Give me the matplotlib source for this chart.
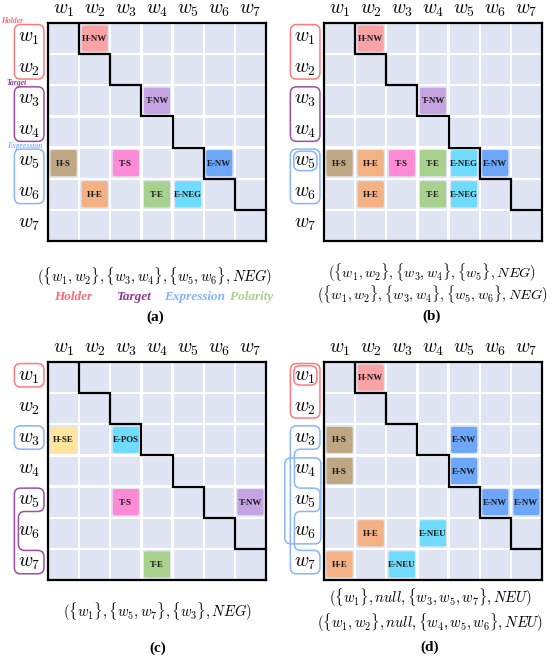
import numpy as np
import matplotlib
matplotlib.use("Agg")
import matplotlib.pyplot as plt
from matplotlib.patches import Rectangle, FancyBboxPatch, PathPatch
from matplotlib.path import Path

plt.rcParams['mathtext.fontset'] = 'cm'

N = 7
words = [r'$w_{%d}$' % (i + 1) for i in range(N)]

# tagged cells: (row, col, tag)
cells_a = [(0, 1, 'H-NW'), (2, 3, 'T-NW'), (4, 0, 'H-S'), (4, 2, 'T-S'), (4, 5, 'E-NW'),
           (5, 1, 'H-E'), (5, 3, 'T-E'), (5, 4, 'E-NEG')]
cells_b = [(0, 1, 'H-NW'), (2, 3, 'T-NW'), (4, 0, 'H-S'), (4, 1, 'H-E'), (4, 2, 'T-S'),
           (4, 3, 'T-E'), (4, 4, 'E-NEG'), (4, 5, 'E-NW'), (5, 1, 'H-E'), (5, 3, 'T-E'),
           (5, 4, 'E-NEG')]
cells_c = [(2, 0, 'H-SE'), (2, 2, 'E-POS'), (4, 2, 'T-S'), (4, 6, 'T-NW'), (6, 3, 'T-E')]
cells_d = [(0, 1, 'H-NW'), (2, 0, 'H-S'), (2, 4, 'E-NW'), (3, 0, 'H-S'), (3, 4, 'E-NW'),
           (4, 5, 'E-NW'), (4, 6, 'E-NW'), (5, 1, 'H-E'), (5, 3, 'E-NEU'), (6, 0, 'H-E'),
           (6, 2, 'E-NEU')]

# spans marked next to the rows: (rows, role, level)
spans_a = [([0, 1], 'holder', 'outer'), ([2, 3], 'target', 'outer'), ([4, 5], 'expr', 'outer')]
spans_b = [([0, 1], 'holder', 'outer'), ([2, 3], 'target', 'outer'), ([4, 5], 'expr', 'outer'),
           ([4], 'expr', 'inner')]
spans_c = [([0], 'holder', 'outer'), ([2], 'expr', 'outer'), ([4, 6], 'target', 'outer')]
spans_d = [([0, 1], 'holder', 'outer'), ([0], 'holder', 'inner'), ([2, 4, 6], 'expr', 'outer'),
           ([3, 4, 5], 'expr', 'wide')]

quads_a = [r'$(\{w_1,w_2\},\{w_3,w_4\},\{w_5,w_6\},NEG)$']
quads_b = [r'$(\{w_1,w_2\},\{w_3,w_4\},\{w_5\},NEG)$',
           r'$(\{w_1,w_2\},\{w_3,w_4\},\{w_5,w_6\},NEG)$']
quads_c = [r'$(\{w_1\},\{w_5,w_7\},\{w_3\},NEG)$']
quads_d = [r'$(\{w_1\},null,\{w_3,w_5,w_7\},NEU)$',
           r'$(\{w_1,w_2\},null,\{w_4,w_5,w_6\},NEU)$']

legend_words = ['Holder', 'Target', 'Expression', 'Polarity']

tag_colors = {'H-NW': '#f9a3a6', 'T-NW': '#c6a4e2', 'H-S': '#bfa783', 'T-S': '#ff8ad5',
              'E-NW': '#6ca7fa', 'H-E': '#f4b183', 'T-E': '#a9d18e', 'E-NEG': '#6fdcfd',
              'H-SE': '#ffe69c', 'E-POS': '#6fdcfd', 'E-NEU': '#6fdcfd'}
role_colors = {'holder': '#ff7b7e', 'target': '#a04ca6', 'expr': '#88b5fb'}
legend_colors = ['#ff6b72', '#8e3a99', '#84b2ff', '#a8d28c']
levels = {'outer': (-1.08, -0.13, 0.05, 0.8), 'inner': (-0.97, -0.23, 0.12, 0.74),
          'wide': (-1.26, -0.1, 0.08, 0.84)}

W, H = 557, 664
fig = plt.figure(figsize=(W / 100, H / 100), dpi=100)


def rounded_path(pts, r):
    verts, codes = [], []
    n = len(pts)
    for k in range(n):
        p0, p1, p2 = np.array(pts[k - 1]), np.array(pts[k]), np.array(pts[(k + 1) % n])
        l1, l2 = np.linalg.norm(p0 - p1), np.linalg.norm(p2 - p1)
        rr = min(r, l1 / 2, l2 / 2)
        a = p1 + (p0 - p1) / l1 * rr
        b = p1 + (p2 - p1) / l2 * rr
        verts.append(a)
        codes.append(Path.MOVETO if k == 0 else Path.LINETO)
        verts += [p1, b]
        codes += [Path.CURVE3, Path.CURVE3]
    verts.append(verts[0])
    codes.append(Path.CLOSEPOLY)
    return Path(verts, codes)


def bracket(ax, rows, role, level):
    x0, x1, top, bot = levels[level]
    runs = [[rows[0]]]
    for r in rows[1:]:
        if r == runs[-1][-1] + 1:
            runs[-1].append(r)
        else:
            runs.append([r])
    xn = x0 + 0.13
    pts = [(x0, runs[0][0] + top)]
    for k, run in enumerate(runs):
        pts += [(x1, run[0] + top), (x1, run[-1] + bot)]
        if k < len(runs) - 1:
            pts += [(xn, run[-1] + bot), (xn, runs[k + 1][0] + top)]
    pts.append((x0, runs[-1][-1] + bot))
    ax.add_patch(PathPatch(rounded_path(pts, 0.2), fc='none', ec=role_colors[role],
                           lw=1.1, clip_on=False))


def panel(left, top, cells, spans):
    ax = fig.add_axes([left / W, 1 - (top + 218) / H, 218 / W, 218 / H])
    ax.set_xlim(0, N)
    ax.set_ylim(N, 0)
    ax.set_xticks([])
    ax.set_yticks([])
    for s in ax.spines.values():
        s.set_linewidth(1.6)
    for i in range(N):
        for j in range(N):
            ax.add_patch(Rectangle((j + 0.035, i + 0.035), 0.93, 0.93, fc='#e0e5f3', ec='none'))
    for i, j, tag in cells:
        ax.add_patch(FancyBboxPatch((j + 0.1, i + 0.1), 0.8, 0.8,
                                    boxstyle='round,pad=0.02,rounding_size=0.06',
                                    fc=tag_colors[tag], ec='none'))
        ax.text(j + 0.5, i + 0.52, tag, ha='center', va='center', fontsize=6.4,
                fontweight='bold', family='Liberation Serif', color='#1a1a1a')
    # staircase separating the upper triangle
    sx, sy = [1], [0]
    for k in range(1, N):
        sx += [k, k + 1]
        sy += [k, k]
    ax.plot(sx, sy, color='black', lw=1.6, solid_joinstyle='miter')
    for k, w in enumerate(words):
        ax.text(k + 0.5, -0.42, w, ha='center', va='center', fontsize=14, clip_on=False)
        ax.text(-0.6, k + 0.45, w, ha='center', va='center', fontsize=14, clip_on=False)
    for rows, role, level in spans:
        bracket(ax, rows, role, level)
    return ax


ax_a = panel(48, 23, cells_a, spans_a)
panel(324, 23, cells_b, spans_b)
panel(48, 362, cells_c, spans_c)
panel(324, 362, cells_d, spans_d)

small = dict(ha='center', va='center', fontsize=5.5, style='italic', fontweight='bold',
             family='Liberation Serif', clip_on=False)
ax_a.text(-1.15, -0.05, 'Holder', color=legend_colors[0], **small)
ax_a.text(-1.0, 1.94, 'Target', color=legend_colors[1], **small)
ax_a.text(-0.75, 3.94, 'Expression', color=legend_colors[2], **small)


def caption(x, y, lines, label, ylab, size=10.5, spacing=1.0):
    fig.text(x / W, 1 - y / H, '\n'.join(lines), ha='center', va='center',
             fontsize=size, linespacing=spacing, multialignment='center')
    fig.text(x / W, 1 - ylab / H, label, ha='center', va='center', fontsize=11,
             fontweight='bold', family='Liberation Serif')


caption(155, 277, quads_a, '(a)', 317)
caption(432, 284, quads_b, '(b)', 316, size=10.3, spacing=0.95)
caption(158, 612, quads_c, '(c)', 648)
caption(430, 610, quads_d, '(d)', 647, size=10.5, spacing=1.15)

for x, word, c in zip([73, 133, 195, 252], legend_words, legend_colors):
    fig.text(x / W, 1 - 297 / H, word, ha='center', va='center', fontsize=9.5,
             style='italic', fontweight='bold', family='Liberation Serif', color=c)

fig.savefig('out.png', dpi=100)
